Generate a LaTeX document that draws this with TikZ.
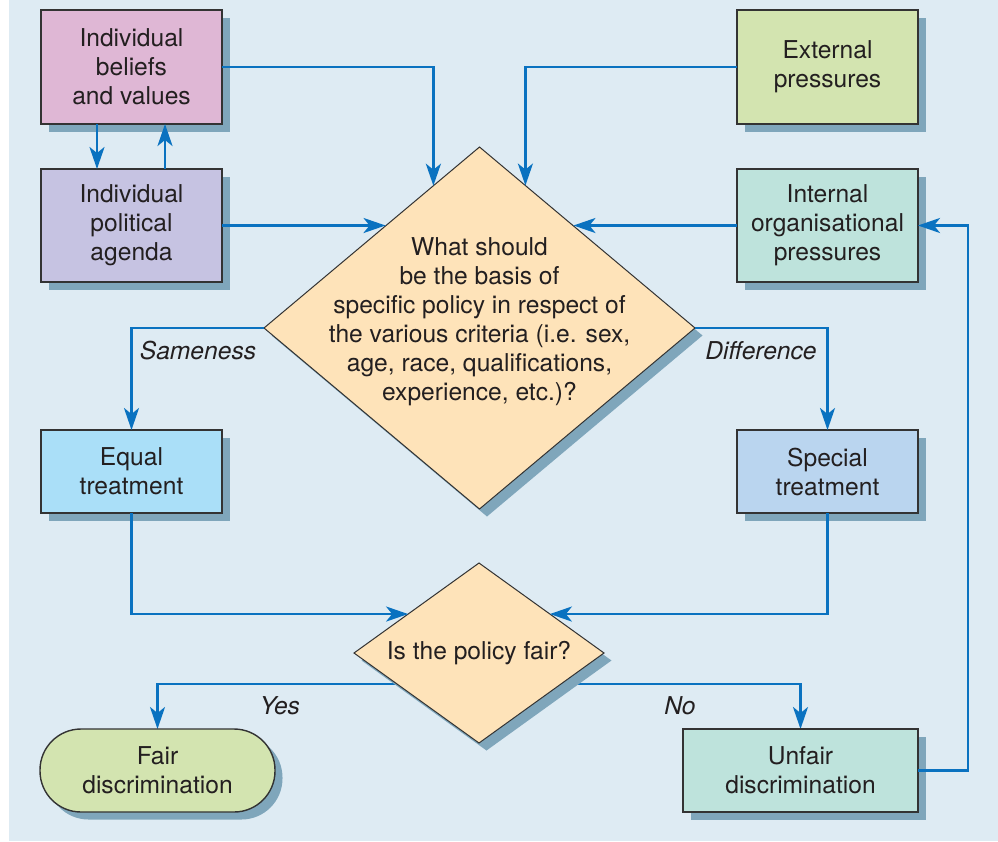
\documentclass[tikz,border=0pt]{standalone}
\usepackage{fontspec}
\setmainfont{TeX Gyre Heros}
\usetikzlibrary{shapes.geometric,shadows,arrows.meta,calc}
\pgfdeclarelayer{back}
\pgfsetlayers{back,main}

\definecolor{panel}{HTML}{DEEBF3}
\definecolor{beliefs}{HTML}{DFB7D5}
\definecolor{agenda}{HTML}{C6C3E2}
\definecolor{extc}{HTML}{D3E4B0}
\definecolor{intc}{HTML}{BEE3DC}
\definecolor{question}{HTML}{FEE3B9}
\definecolor{equalc}{HTML}{AADFF8}
\definecolor{specialc}{HTML}{BAD5EF}
\definecolor{shade}{HTML}{7FA6BB}
\definecolor{flow}{HTML}{0A72C0}
\definecolor{edge}{HTML}{333333}
\definecolor{ink}{HTML}{231F20}

\tikzset{
  shade box/.style={drop shadow={shadow xshift=7.5pt, shadow yshift=-7.5pt, fill=shade, fill opacity=1}},
  box/.style={rectangle, draw=edge, line width=1.4pt, inner sep=0pt, outer sep=0pt,
    align=center, text=ink, shade box},
  decision/.style={diamond, draw=edge, line width=1pt, inner sep=0pt, outer sep=0pt,
    text=ink, shade box},
  flowline/.style={draw=flow, line width=2.7pt,
    -{Stealth[length=22pt,width=15pt,inset=6pt]}},
  branch/.style={font=\fontsize{24.6}{29}\selectfont\itshape, text=ink}
}

\begin{document}
\begin{tikzpicture}[x=1pt,y=-1pt,font=\fontsize{24.6}{29}\selectfont]
\useasboundingbox (0,0) rectangle (998,841);
\begin{pgfonlayer}{back}
  \fill[panel] (9,0) rectangle (998,841);
\end{pgfonlayer}

% influences on the policy question
\node[box, fill=beliefs, minimum width=181pt, minimum height=114pt] (b1) at (131.5,67) {Individual\\beliefs\\and values};
\node[box, fill=agenda, minimum width=181pt, minimum height=113pt] (b2) at (131.5,225.5) {Individual\\political\\agenda};
\node[box, fill=extc, minimum width=181pt, minimum height=114pt] (ext) at (827.5,67) {External\\pressures};
\node[box, fill=intc, minimum width=181pt, minimum height=113pt] (int) at (827.5,225.5) {Internal\\organisational\\pressures};

% main question
\node[decision, fill=question, minimum width=431pt, minimum height=362pt,
  label={[text=ink, align=center, yshift=6.5pt]center:What should\\be the basis of\\specific policy in respect of\\the various criteria (i.e. sex,\\age, race, qualifications,\\experience, etc.)?}] (q1) at (479.5,328) {};

% treatments
\node[box, fill=equalc, minimum width=181pt, minimum height=83pt] (eq) at (131.5,471.5) {Equal\\treatment};
\node[box, fill=specialc, minimum width=181pt, minimum height=83pt] (sp) at (827.5,471.5) {Special\\treatment};

% fairness test
\node[decision, fill=question, minimum width=250pt, minimum height=180pt,
  label={[text=ink]center:Is the policy fair?}] (q2) at (479,653) {};

% outcomes
\node[box, fill=extc, rounded corners=41pt, minimum width=235pt, minimum height=83pt] (fair) at (157.5,770.5) {Fair\\discrimination};
\node[box, fill=intc, minimum width=235pt, minimum height=83pt] (unf) at (800.5,770.5) {Unfair\\discrimination};

% entry points on the diamond edges
\coordinate (q1a) at ($(q1.west)!0.786!(q1.north)$);
\coordinate (q1b) at ($(q1.east)!0.787!(q1.north)$);
\coordinate (q1c) at ($(q1.west)!0.564!(q1.north)$);
\coordinate (q1d) at ($(q1.east)!0.564!(q1.north)$);
\coordinate (q2a) at ($(q2.west)!0.433!(q2.north)$);
\coordinate (q2b) at ($(q2.east)!0.433!(q2.north)$);

% connectors into the main question
\draw[flowline] (b1.east) -| (q1a);
\draw[flowline] (ext.west) -| (q1b);
\draw[flowline] (b2.east) -- (b2.east -| q1c);
\draw[flowline] (int.west) -- (int.west -| q1d);
\draw[flowline] ($(b1.south west)+(56,0)$) -- ($(b2.north west)+(56,0)$);
\draw[flowline] ($(b2.north west)+(124,0)$) -- ($(b1.south west)+(124,0)$);

% branches
\draw[flowline] (q1.west) -| (eq.north);
\draw[flowline] (q1.east) -| (sp.north);
\node[branch] (same) at (198,351) {Sameness};
\node[branch] (diff) at (761,351) {Difference};

\draw[flowline] (eq.south) |- (q2a);
\draw[flowline] (sp.south) |- (q2b);

% outcome connectors pass behind the fairness diamond
\begin{pgfonlayer}{back}
  \draw[flowline] ($(q2.center)+(0,31)$) -| (fair.north);
  \draw[flowline] ($(q2.center)+(0,31)$) -| (unf.north);
\end{pgfonlayer}
\node[branch] (yes) at (280,706) {Yes};
\node[branch] (no) at (680,706) {No};

% feedback loop
\draw[flowline] (unf.east) -- ++(50,0) |- (int.east);
\end{tikzpicture}
\end{document}
